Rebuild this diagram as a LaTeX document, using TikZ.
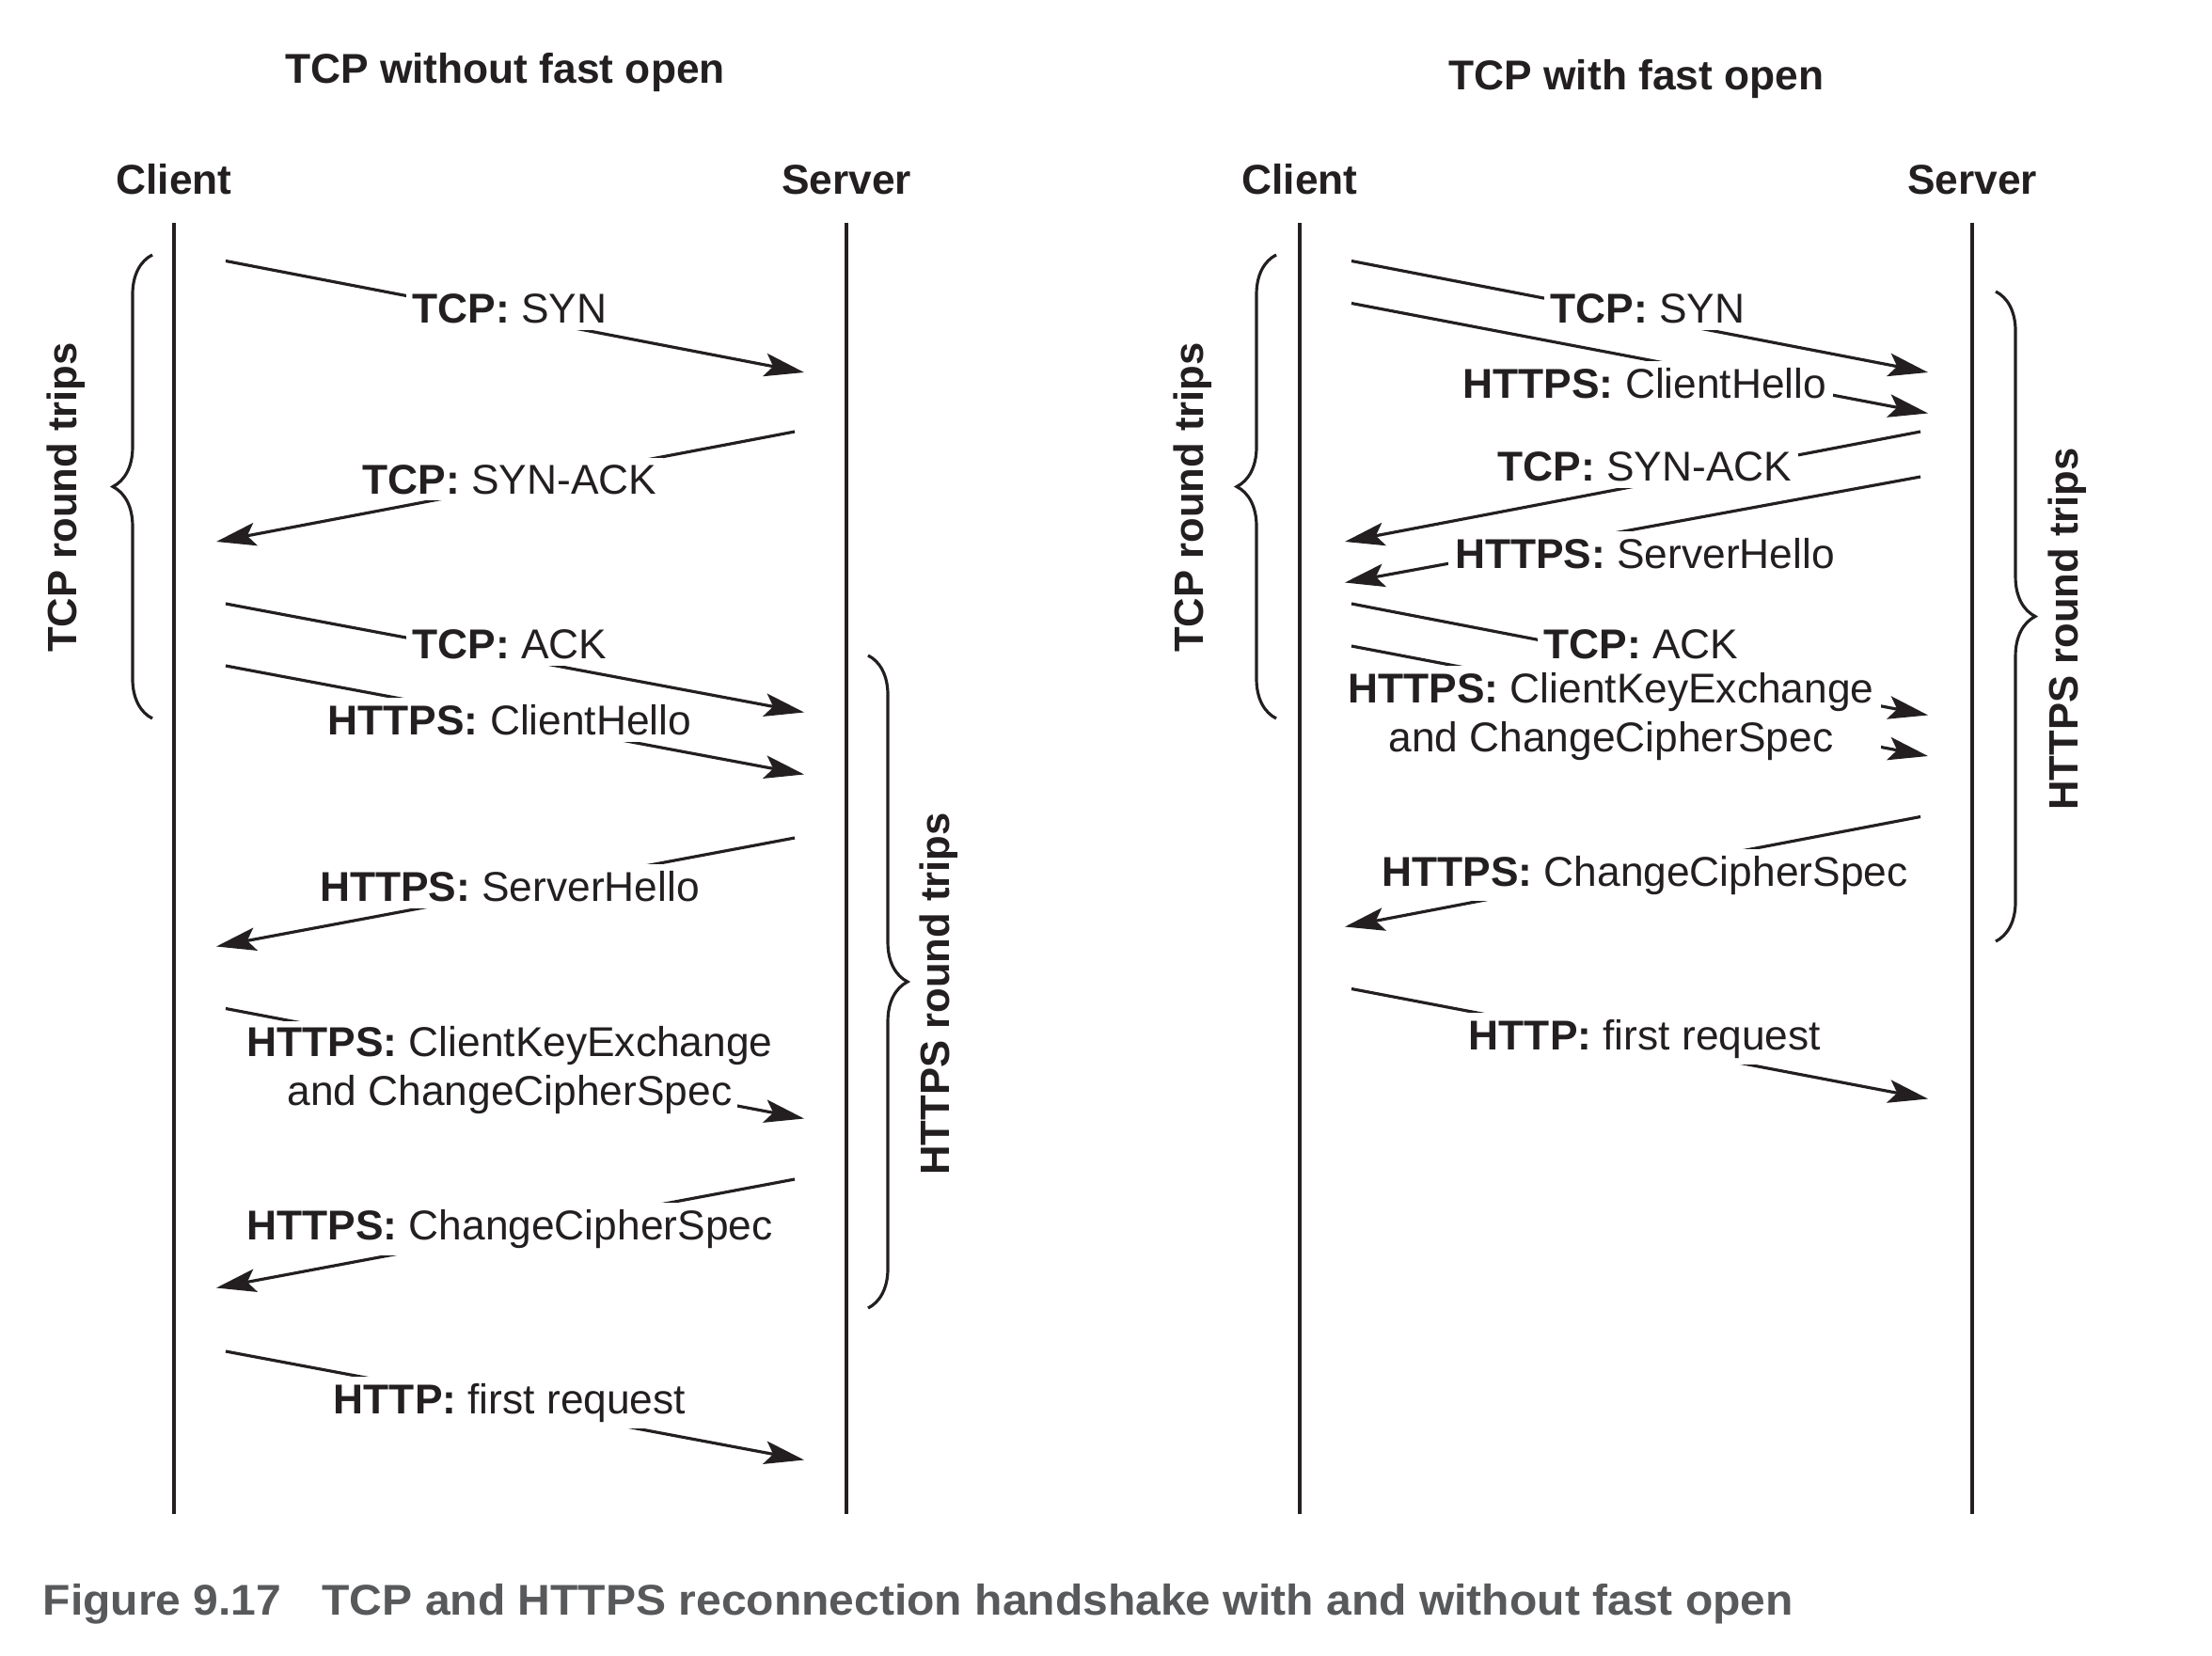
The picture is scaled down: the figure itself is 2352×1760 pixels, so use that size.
\documentclass[tikz,border=0pt]{standalone}
\usepackage{fontspec}
\setmainfont{Liberation Sans}
\usepackage{graphicx}
\usepackage{tikz}
\usetikzlibrary{arrows.meta,decorations.pathreplacing}
\usepackage{xcolor}
\definecolor{ink}{HTML}{231F20}
\definecolor{capgray}{HTML}{58595B}
% white mask behind one line of a label
\newcommand{\maskline}[1]{{\setlength{\fboxsep}{1.5pt}\colorbox{white}{#1}}}

\tikzset{
  lifeline/.style={draw=ink,line width=1pt},
  msg/.style={draw=ink,line width=0.9pt,-{Stealth[length=12pt,width=7pt,inset=2.5pt]}},
  msglabel/.style={fill=white,inner sep=2pt,text=ink,align=center,font=\fontsize{12.6}{14.8}\selectfont},
  heading/.style={text=ink,font=\bfseries\fontsize{12.6}{15}\selectfont},
  roundbrace/.style={draw=ink,line width=0.9pt,decorate,decoration={brace,amplitude=0.42cm}},
  bracelabel/.style={rotate=90,text=ink,font=\bfseries\fontsize{12.4}{15}\selectfont}
}

\begin{document}
\begin{tikzpicture}[x=0.01cm,y=-0.01cm]
\useasboundingbox (0,0) rectangle (2352,1760);

% titles and lifeline heads
\node[heading,anchor=base] (ltitle) at (537,88) {TCP without fast open};
\node[heading,anchor=base] (rtitle) at (1740,95) {TCP with fast open};
\node[heading,anchor=base] (lclient) at (185,206) {Client};
\node[heading,anchor=base] (lserver) at (900,206) {Server};
\node[heading,anchor=base] (rclient) at (1382,206) {Client};
\node[heading,anchor=base] (rserver) at (2097,206) {Server};

% lifelines
\foreach \p/\x in {lc/185,ls/900,rc/1382,rs/2097}{
  \coordinate (\p top) at (\x,237);
  \coordinate (\p bot) at (\x,1610);
  \draw[lifeline] (\p top) -- (\p bot);
}

% messages, left: without fast open
\foreach \xa/\ya/\xb/\yb [count=\i] in {240/277.5/855/396, 845/459/230/576,
    240/642/855/757.5, 240/708/855/823.5, 845/891/230/1006.5,
    240/1072.5/855/1189.5, 845/1254/230/1369.5, 240/1437/855/1552.5}{
  \coordinate (la\i) at (\xa,\ya);
  \coordinate (lb\i) at (\xb,\yb);
  \draw[msg] (la\i) -- (lb\i);
}
% messages, right: with fast open
\foreach \xa/\ya/\xb/\yb [count=\i] in {1437/277.5/2050/396, 1437/322.5/2050/439.5,
    2042/459/1430/576, 2042/507/1430/619.5, 1437/642/2050/760.5,
    1437/687/2050/804, 2042/868.5/1430/985.5, 1437/1051.5/2050/1168.5}{
  \coordinate (ra\i) at (\xa,\ya);
  \coordinate (rb\i) at (\xb,\yb);
  \draw[msg] (ra\i) -- (rb\i);
}

% labels, left
\node[msglabel,anchor=base] (lsyn) at (542,343.5) {\textbf{TCP:} SYN};
\node[msglabel,anchor=base] (lsynack) at (542,525) {\textbf{TCP:} SYN-ACK};
\node[msglabel,anchor=base] (lack) at (542,700.5) {\textbf{TCP:} ACK};
\node[msglabel,anchor=base] (lchello) at (542,781.5) {\textbf{HTTPS:} ClientHello};
\node[msglabel,anchor=base] (lshello) at (542,958.5) {\textbf{HTTPS:} ServerHello};
\node[msglabel,fill=none,inner sep=0pt] (lkey) at (542,1138) {\maskline{\textbf{HTTPS:} ClientKeyExchange}\\\maskline{and ChangeCipherSpec}};
\node[msglabel,anchor=base] (lcipher) at (542,1318.5) {\textbf{HTTPS:} ChangeCipherSpec};
\node[msglabel,anchor=base] (lreq) at (542,1503) {\textbf{HTTP:} first request};

% labels, right
\node[msglabel,anchor=base] (rsyn) at (1752,343.5) {\textbf{TCP:} SYN};
\node[msglabel,anchor=base] (rchello) at (1749,423) {\textbf{HTTPS:} ClientHello};
\node[msglabel,anchor=base] (rsynack) at (1749,511.5) {\textbf{TCP:} SYN-ACK};
\node[msglabel,anchor=base] (rshello) at (1749,604.5) {\textbf{HTTPS:} ServerHello};
\node[msglabel,anchor=base] (rack) at (1745,700.5) {\textbf{TCP:} ACK};
\node[msglabel] (rkey) at (1713,762) {\textbf{HTTPS:} ClientKeyExchange\\and ChangeCipherSpec};
\node[msglabel,anchor=base] (rcipher) at (1749,942) {\textbf{HTTPS:} ChangeCipherSpec};
\node[msglabel,anchor=base] (rreq) at (1749,1116) {\textbf{HTTP:} first request};

% round trip braces
\coordinate (ltcpa) at (162,764); \coordinate (ltcpb) at (162,271);
\coordinate (lhtta) at (923,697); \coordinate (lhttb) at (923,1391);
\coordinate (rtcpa) at (1357,764); \coordinate (rtcpb) at (1357,271);
\coordinate (rhtta) at (2122,310); \coordinate (rhttb) at (2122,1001);
\draw[roundbrace] (ltcpa) -- (ltcpb);
\draw[roundbrace] (lhtta) -- (lhttb);
\draw[roundbrace] (rtcpa) -- (rtcpb);
\draw[roundbrace] (rhtta) -- (rhttb);
\node[bracelabel] (ltcplbl) at (70,529) {TCP round trips};
\node[bracelabel] (lhttlbl) at (998,1057) {HTTPS round trips};
\node[bracelabel] (rtcplbl) at (1268,529) {TCP round trips};
\node[bracelabel] (rhttlbl) at (2198,669) {HTTPS round trips};

% caption
\node[anchor=base west,inner sep=0pt,text=capgray,font=\bfseries\fontsize{13}{15}\selectfont] (caption) at (45,1717)
  {\resizebox{18.6cm}{\height}{Figure 9.17\hspace{0.9em}TCP and HTTPS reconnection handshake with and without fast open}};
\end{tikzpicture}
\end{document}
